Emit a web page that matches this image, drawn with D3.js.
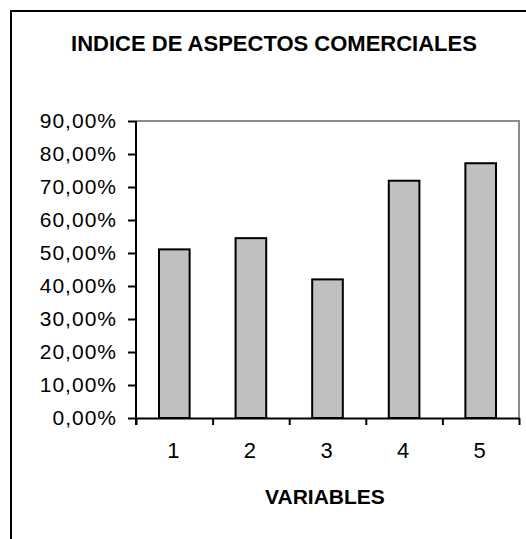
<!DOCTYPE html>
<html>
<head>
<meta charset="utf-8">
<script src="https://cdn.jsdelivr.net/npm/d3@7"></script>
<style>
  html, body { margin: 0; padding: 0; background: #fff; }
  svg { display: block; }
  text { font-family: Arial, "Liberation Sans", sans-serif; fill: #000; }
</style>
</head>
<body>
<svg id="chart" width="526" height="539"></svg>
<script>
const categories = ["1", "2", "3", "4", "5"];
const values = [0.511, 0.545, 0.420, 0.719, 0.772];
const yTicks = [0, 0.1, 0.2, 0.3, 0.4, 0.5, 0.6, 0.7, 0.8, 0.9];
const title = "INDICE DE ASPECTOS COMERCIALES";
const xTitle = "VARIABLES";

const svg = d3.select("#chart");
const plot = { left: 136, right: 519, top: 121, bottom: 418 };

// outer frame (right and bottom edges fall outside the window)
svg.append("path")
  .attr("d", "M11,545 L11,11 L540,11")
  .attr("fill", "none").attr("stroke", "#000").attr("stroke-width", 2);

svg.append("text")
  .attr("x", 274).attr("y", 51)
  .attr("text-anchor", "middle")
  .attr("font-size", 22).attr("font-weight", "bold")
  .text(title);

const x = d3.scaleBand().domain(categories)
  .range([plot.left, plot.right]).paddingInner(0.6).paddingOuter(0.3);
const xEdge = d3.scaleLinear().domain([0, categories.length]).range([plot.left, plot.right]);
const y = d3.scaleLinear().domain([0, 0.9]).range([plot.bottom, plot.top]);

const locale = d3.formatLocale({ decimal: ",", thousands: ".", grouping: [3], currency: ["", "€"] });
const pct = locale.format(".2%");

// plot frame (top and right in gray)
svg.append("path")
  .attr("d", `M${plot.left},${plot.top} L${plot.right},${plot.top} L${plot.right},${plot.bottom}`)
  .attr("fill", "none").attr("stroke", "#8c8c8c").attr("stroke-width", 2);

// bars
svg.append("g").selectAll("rect").data(values).join("rect")
  .attr("x", (d, i) => x(categories[i]))
  .attr("width", x.bandwidth())
  .attr("y", d => y(d))
  .attr("height", d => y(0) - y(d))
  .attr("fill", "#c0c0c0").attr("stroke", "#000").attr("stroke-width", 2);

// y axis
const yAxis = svg.append("g").attr("transform", `translate(${plot.left},0)`)
  .call(d3.axisLeft(y).tickValues(yTicks).tickFormat(pct).tickSize(8).tickSizeOuter(0).tickPadding(12));
yAxis.select(".domain").attr("d", `M0,${plot.top}V${plot.bottom + 7}`).attr("stroke", "#000").attr("stroke-width", 2);
yAxis.selectAll(".tick line").attr("stroke", "#000").attr("stroke-width", 2);
yAxis.selectAll(".tick text").attr("font-size", 21).attr("letter-spacing", "1px")
  .attr("font-family", "Arial, 'Liberation Sans', sans-serif").attr("fill", "#000").attr("dx", 1);

// x axis line and boundary ticks
const xAxis = svg.append("g").attr("transform", `translate(0,${plot.bottom})`)
  .call(d3.axisBottom(xEdge).tickValues(d3.range(categories.length + 1)).tickFormat("").tickSize(7).tickSizeOuter(0));
xAxis.select(".domain").attr("stroke", "#000").attr("stroke-width", 2);
xAxis.selectAll(".tick line").attr("stroke", "#000").attr("stroke-width", 2);

// category labels
const xLab = svg.append("g").attr("transform", `translate(0,${plot.bottom})`)
  .call(d3.axisBottom(x).tickSize(0).tickPadding(24));
xLab.select(".domain").remove();
xLab.selectAll(".tick text").attr("font-size", 22)
  .attr("font-family", "Arial, 'Liberation Sans', sans-serif").attr("fill", "#000").attr("dx", -1);

svg.append("text")
  .attr("x", 325).attr("y", 503.5)
  .attr("text-anchor", "middle")
  .attr("font-size", 21).attr("font-weight", "bold")
  .text(xTitle);
</script>
</body>
</html>
